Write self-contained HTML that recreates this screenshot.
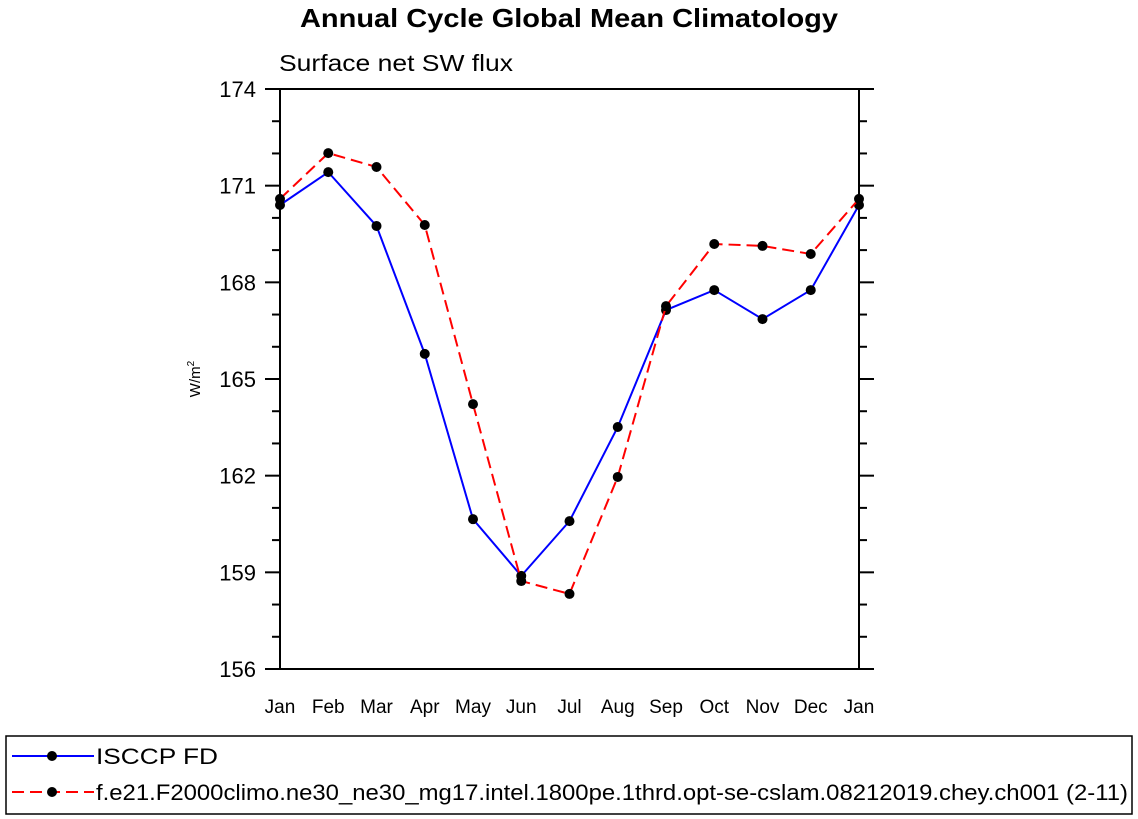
<!DOCTYPE html>
<html><head><meta charset="utf-8"><style>body{margin:0;background:#fff}svg{display:block;font-family:"Liberation Sans",Arial,sans-serif}</style></head>
<body>
<svg id="c" width="1138" height="819">
<text x="300" y="27" textLength="538" lengthAdjust="spacingAndGlyphs" font-size="26" font-weight="bold">Annual Cycle Global Mean Climatology</text>
<text x="279" y="71" textLength="234" lengthAdjust="spacingAndGlyphs" font-size="23">Surface net SW flux</text>
<text transform="translate(200,379) rotate(-90)" text-anchor="middle" font-size="15">W/m<tspan dy="-6" font-size="10">2</tspan></text>
<g id="axes"></g>
<g id="series"></g>
<rect x="6" y="736" width="1126" height="78" fill="none" stroke="#000" stroke-width="1.5"/>
<g>
<line x1="12" y1="756" x2="94" y2="756" stroke="#0000ff" stroke-width="2"/><circle cx="52" cy="756" r="5"/>
<text x="96" y="764" textLength="122" lengthAdjust="spacingAndGlyphs" font-size="22">ISCCP FD</text></g>
<g>
<line x1="12" y1="792" x2="94" y2="792" stroke="#ff0000" stroke-width="2" stroke-dasharray="12,6"/><circle cx="52" cy="792" r="5"/>
<text x="96" y="800" textLength="1032" lengthAdjust="spacingAndGlyphs" font-size="22">f.e21.F2000climo.ne30_ne30_mg17.intel.1800pe.1thrd.opt-se-cslam.08212019.chey.ch001 (2-11)</text></g>
</svg>
<script>
const months=["Jan","Feb","Mar","Apr","May","Jun","Jul","Aug","Sep","Oct","Nov","Dec","Jan"];
const isccp=[170.4,171.42,169.75,165.78,160.65,158.89,160.59,163.51,167.14,167.76,166.86,167.76,170.4];
const model=[170.59,172.01,171.58,169.78,164.22,158.73,158.33,161.96,167.26,169.19,169.13,168.88,170.59];
const yTicks=[156,159,162,165,168,171,174];
const NS="http://www.w3.org/2000/svg";
const L=280,R=859,T=89,B=669,ymin=156,ymax=174;
const X=i=>L+(R-L)*i/(months.length-1);
const Y=v=>B-(v-ymin)/(ymax-ymin)*(B-T);
function mk(t,a,p){const e=document.createElementNS(NS,t);for(const k in a)e.setAttribute(k,a[k]);p.appendChild(e);return e;}
const ax=document.getElementById('axes');
const fr=mk('rect',{x:L,y:T,width:R-L,height:B-T,fill:'none',stroke:'#000','stroke-width':2},ax);


for(let v=ymin;v<=ymax;v++){const maj=(v-ymin)%3===0;const y=Y(v);const len=maj?15:8;
mk('line',{x1:L-len,x2:L,y1:y,y2:y,stroke:'#000','stroke-width':2},ax);
mk('line',{x1:R,x2:R+len,y1:y,y2:y,stroke:'#000','stroke-width':2},ax);}
yTicks.forEach(v=>{const t=mk('text',{x:256,y:Y(v)+8,'text-anchor':'end','font-size':22},ax);t.textContent=v;

});
months.forEach((m,i)=>{const t=mk('text',{x:X(i),y:713,'text-anchor':'middle','font-size':19},ax);t.textContent=m;

});
const sg=document.getElementById('series');
function draw(d,col,dash,name){const g=mk('g',{},sg);


mk('polyline',{points:d.map((v,i)=>X(i)+','+Y(v)).join(' '),fill:'none',stroke:col,'stroke-width':2,'stroke-dasharray':dash},g);
d.forEach((v,i)=>{const c=mk('circle',{cx:X(i),cy:Y(v),r:5,fill:'#000'},g);

});}
draw(isccp,'#0000ff','none','series-isccp');
draw(model,'#ff0000','12,6','series-model');
</script>
</body></html>
